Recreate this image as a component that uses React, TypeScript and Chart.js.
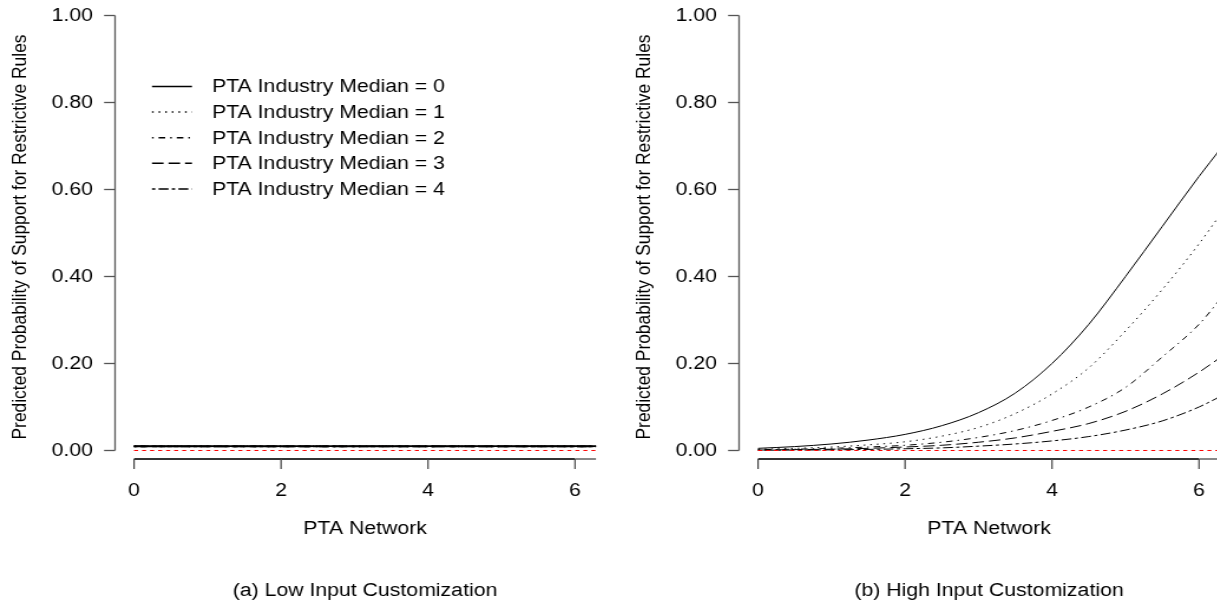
import React, { useEffect, useRef } from "react";
import { Chart, registerables } from "chart.js";

Chart.register(...registerables);

// ---------- data ----------
const xValues = [0, 0.5, 1, 1.5, 2, 2.5, 3, 3.5, 4, 4.5, 5, 5.5, 6, 6.3];
const xTicks = [0, 2, 4, 6];
const yTicks = [0, 0.2, 0.4, 0.6, 0.8, 1.0];
const yTickLabels = ["0.00", "0.20", "0.40", "0.60", "0.80", "1.00"];
const seriesLabels = [
  "PTA Industry Median = 0",
  "PTA Industry Median = 1",
  "PTA Industry Median = 2",
  "PTA Industry Median = 3",
  "PTA Industry Median = 4",
];
const zeroLine = [0, 0, 0, 0, 0, 0, 0, 0, 0, 0, 0, 0, 0, 0];

// (a) Low input customization
const lowMed0 = [0.0100, 0.0100, 0.0100, 0.0100, 0.0100, 0.0100, 0.0100, 0.0100, 0.0100, 0.0100, 0.0100, 0.0100, 0.0100, 0.0100];
const lowMed1 = [0.0098, 0.0098, 0.0098, 0.0098, 0.0098, 0.0098, 0.0098, 0.0098, 0.0098, 0.0098, 0.0098, 0.0098, 0.0098, 0.0098];
const lowMed2 = [0.0096, 0.0096, 0.0096, 0.0096, 0.0096, 0.0096, 0.0096, 0.0096, 0.0096, 0.0096, 0.0096, 0.0096, 0.0096, 0.0096];
const lowMed3 = [0.0094, 0.0094, 0.0094, 0.0094, 0.0094, 0.0094, 0.0094, 0.0094, 0.0094, 0.0094, 0.0094, 0.0094, 0.0094, 0.0094];
const lowMed4 = [0.0092, 0.0092, 0.0092, 0.0092, 0.0092, 0.0092, 0.0092, 0.0092, 0.0092, 0.0092, 0.0092, 0.0092, 0.0092, 0.0092];

// (b) High input customization
const highMed0 = [0.005, 0.009, 0.015, 0.024, 0.037, 0.057, 0.087, 0.132, 0.2, 0.29, 0.4, 0.515, 0.63, 0.695];
const highMed1 = [0.003, 0.005, 0.008, 0.013, 0.02, 0.033, 0.053, 0.085, 0.13, 0.19, 0.275, 0.37, 0.475, 0.545];
const highMed2 = [0.002, 0.003, 0.005, 0.008, 0.012, 0.019, 0.03, 0.046, 0.069, 0.1, 0.145, 0.215, 0.29, 0.35];
const highMed3 = [0.001, 0.002, 0.003, 0.005, 0.008, 0.012, 0.019, 0.029, 0.044, 0.062, 0.09, 0.13, 0.18, 0.215];
const highMed4 = [0.0005, 0.001, 0.0015, 0.0025, 0.004, 0.006, 0.01, 0.015, 0.022, 0.032, 0.047, 0.068, 0.1, 0.125];

const xAxisTitle = "PTA Network";
const yAxisTitle = "Predicted Probability of Support for Restrictive Rules";
const captionA = "(a) Low Input Customization";
const captionB = "(b) High Input Customization";

// ---------- styling ----------
const FONT = '"Liberation Sans", Arial, Helvetica, sans-serif';
const SX = 1.18; // horizontal stretch of the original figure
const CW = 529;
const CH = 602;
const dashes: number[][] = [
  [],
  [1.4, 4.2],
  [1.4, 4.2, 5.6, 4.2],
  [9.8, 4.2],
  [2.8, 2.8, 8.4, 2.8],
];

const axesPlugin = {
  id: "rAxes",
  afterDraw(chart: any, _args: any, opts: any) {
    const ctx = chart.ctx;
    const xs = chart.scales.x;
    const ys = chart.scales.y;
    const area = chart.chartArea;
    ctx.save();
    // y axis
    const yTop = ys.getPixelForValue(1);
    const yBot = ys.getPixelForValue(0);
    ctx.strokeStyle = "#555";
    ctx.lineWidth = 1.3;
    ctx.beginPath();
    ctx.moveTo(area.left, yTop);
    ctx.lineTo(area.left, yBot);
    ctx.stroke();
    ctx.fillStyle = "#000";
    ctx.font = `18px ${FONT}`;
    ctx.textAlign = "right";
    ctx.textBaseline = "middle";
    yTicks.forEach((v, i) => {
      const py = ys.getPixelForValue(v);
      ctx.beginPath();
      ctx.moveTo(area.left - 9.3, py);
      ctx.lineTo(area.left, py);
      ctx.stroke();
      ctx.fillText(yTickLabels[i], area.left - 18.7, py + 1);
    });
    // x axis
    const xb = 459;
    const x0 = xs.getPixelForValue(xTicks[0]);
    const x6 = xs.getPixelForValue(xTicks[xTicks.length - 1]);
    ctx.strokeStyle = "#333";
    ctx.lineWidth = 2;
    ctx.beginPath();
    ctx.moveTo(x0, xb);
    ctx.lineTo(x6, xb);
    ctx.stroke();
    ctx.strokeStyle = "#888";
    ctx.beginPath();
    ctx.moveTo(x6, xb);
    ctx.lineTo(area.right, xb);
    ctx.stroke();
    ctx.strokeStyle = "#444";
    ctx.lineWidth = 1.2;
    ctx.textAlign = "center";
    xTicks.forEach((v) => {
      const px = xs.getPixelForValue(v);
      ctx.beginPath();
      ctx.moveTo(px, xb);
      ctx.lineTo(px, xb + 10);
      ctx.stroke();
      ctx.fillText(String(v), px, 491);
    });
    // titles
    const cx = (xs.getPixelForValue(0) + area.right) / 2;
    ctx.fillText(xAxisTitle, cx, 529);
    ctx.fillText(opts.caption, cx, 591);
    ctx.save();
    ctx.font = `17.4px ${FONT}`;
    ctx.translate(17, 237);
    ctx.rotate(-Math.PI / 2);
    ctx.fillText(yAxisTitle, 0, 0);
    ctx.restore();
    // legend
    if (opts.legend) {
      ctx.textAlign = "left";
      seriesLabels.forEach((lab, i) => {
        const ly = 86.5 + 25.6 * i;
        ctx.strokeStyle = "#000";
        ctx.lineWidth = 1.5;
        ctx.setLineDash(dashes[i]);
        ctx.beginPath();
        ctx.moveTo(128.8, ly);
        ctx.lineTo(162.7, ly);
        ctx.stroke();
        ctx.setLineDash([]);
        ctx.fillText(lab, 179.7, ly + 1);
      });
    }
    ctx.restore();
  },
};

function Panel({ series, caption, legend, lineWidth }: { series: number[][]; caption: string; legend: boolean; lineWidth: number }) {
  const ref = useRef<HTMLCanvasElement | null>(null);
  useEffect(() => {
    if (!ref.current) return;
    const toPts = (arr: number[]) => arr.map((y, i) => ({ x: xValues[i], y }));
    const datasets: any[] = [
      {
        label: "zero",
        data: toPts(zeroLine),
        borderColor: "#ff0000",
        borderWidth: 1,
        borderDash: [3.4, 3.4],
        pointRadius: 0,
        fill: false,
      },
      ...series.map((s, i) => ({
        label: seriesLabels[i],
        data: toPts(s),
        borderColor: "#000",
        borderWidth: lineWidth,
        borderDash: dashes[i],
        pointRadius: 0,
        fill: false,
        cubicInterpolationMode: "monotone",
      })),
    ];
    const chart = new Chart(ref.current, {
      type: "line",
      data: { datasets },
      options: {
        animation: false,
        responsive: false,
        devicePixelRatio: 1,
        events: [],
        layout: { padding: { left: 97.5, right: 23.9, top: 15.5, bottom: 142.5 } },
        scales: {
          x: { type: "linear", min: -0.2585, max: 6.286, display: false },
          y: { type: "linear", min: -0.0207, max: 1.0, display: false },
        },
        plugins: {
          legend: { display: false },
          tooltip: { enabled: false },
          rAxes: { caption, legend },
        } as any,
      },
      plugins: [axesPlugin],
    });
    return () => chart.destroy();
  }, []);
  return (
    <div style={{ width: CW, height: CH, transform: `scaleX(${SX})`, transformOrigin: "0 0" }}>
      <canvas ref={ref} width={CW} height={CH} />
    </div>
  );
}

export default function App() {
  return (
    <div style={{ position: "fixed", left: 0, top: 0, width: 1217, height: 602, overflow: "hidden", background: "#fff" }}>
      <div style={{ position: "absolute", left: 0, top: 0 }}>
        <Panel series={[lowMed0, lowMed1, lowMed2, lowMed3, lowMed4]} caption={captionA} legend={true} lineWidth={1.7} />
      </div>
      <div style={{ position: "absolute", left: 624, top: 0 }}>
        <Panel series={[highMed0, highMed1, highMed2, highMed3, highMed4]} caption={captionB} legend={false} lineWidth={1} />
      </div>
    </div>
  );
}
